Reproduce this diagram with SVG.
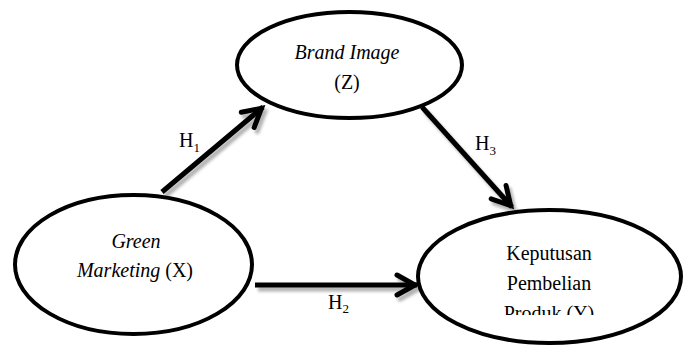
<svg xmlns="http://www.w3.org/2000/svg" width="687" height="345" viewBox="0 0 687 345">
  <style>
    .node { fill: #ffffff; stroke: #000000; stroke-width: 4; }
    .lbl { font-family: "Liberation Serif", "Times New Roman", serif; font-size: 20px; fill: #000000; text-anchor: middle; }
    .it { font-style: italic; }
    .h { font-family: "Liberation Serif", "Times New Roman", serif; font-size: 20px; fill: #000000; }
    .sub { font-size: 13px; }
    .conn { stroke: #000000; stroke-width: 5; fill: none; }
  </style>
  <defs>
    <marker id="chev" markerUnits="userSpaceOnUse" markerWidth="40" markerHeight="40" viewBox="-30 -20 40 40" refX="0" refY="0" orient="auto">
      <path d="M-20,-10 L-2,0 L-20,10" fill="none" stroke="#000000" stroke-width="5" stroke-linejoin="miter" stroke-linecap="round"/>
    </marker>
    <filter id="shadow" x="-20%" y="-20%" width="140%" height="140%">
      <feDropShadow dx="3" dy="4" stdDeviation="1.5" flood-color="#000000" flood-opacity="0.3"/>
    </filter>
    <clipPath id="clipY">
      <rect x="0" y="0" width="687" height="315"/>
    </clipPath>
  </defs>

  <g id="connectors" filter="url(#shadow)">
    <line class="conn" x1="162" y1="192" x2="263" y2="107" marker-end="url(#chev)"/>
    <line class="conn" x1="422" y1="107" x2="512" y2="207" marker-end="url(#chev)"/>
    <line class="conn" x1="255" y1="285" x2="417" y2="285" marker-end="url(#chev)"/>
  </g>

  <g id="labels">
    <text class="h" x="179" y="147">H<tspan class="sub" dy="5">1</tspan></text>
    <text class="h" x="475" y="150">H<tspan class="sub" dy="5">3</tspan></text>
    <text class="h" x="328" y="309">H<tspan class="sub" dy="4">2</tspan></text>
  </g>

  <g id="node-z">
    <ellipse class="node" cx="349.5" cy="65" rx="112.5" ry="53"/>
    <text class="lbl it" x="347" y="59">Brand Image</text>
    <text class="lbl" x="347" y="89">(Z)</text>
  </g>

  <g id="node-x">
    <ellipse class="node" cx="133.5" cy="264.5" rx="118.5" ry="69.5"/>
    <text class="lbl it" x="136" y="248">Green</text>
    <text class="lbl" x="135" y="277"><tspan class="it">Marketing</tspan> (X)</text>
  </g>

  <g id="node-y">
    <ellipse class="node" cx="549.5" cy="276.5" rx="131.5" ry="66.5"/>
    <text class="lbl" x="549" y="260">Keputusan</text>
    <text class="lbl" x="549" y="290">Pembelian</text>
    <text class="lbl" x="549" y="320" clip-path="url(#clipY)">Produk (Y)</text>
  </g>
</svg>
